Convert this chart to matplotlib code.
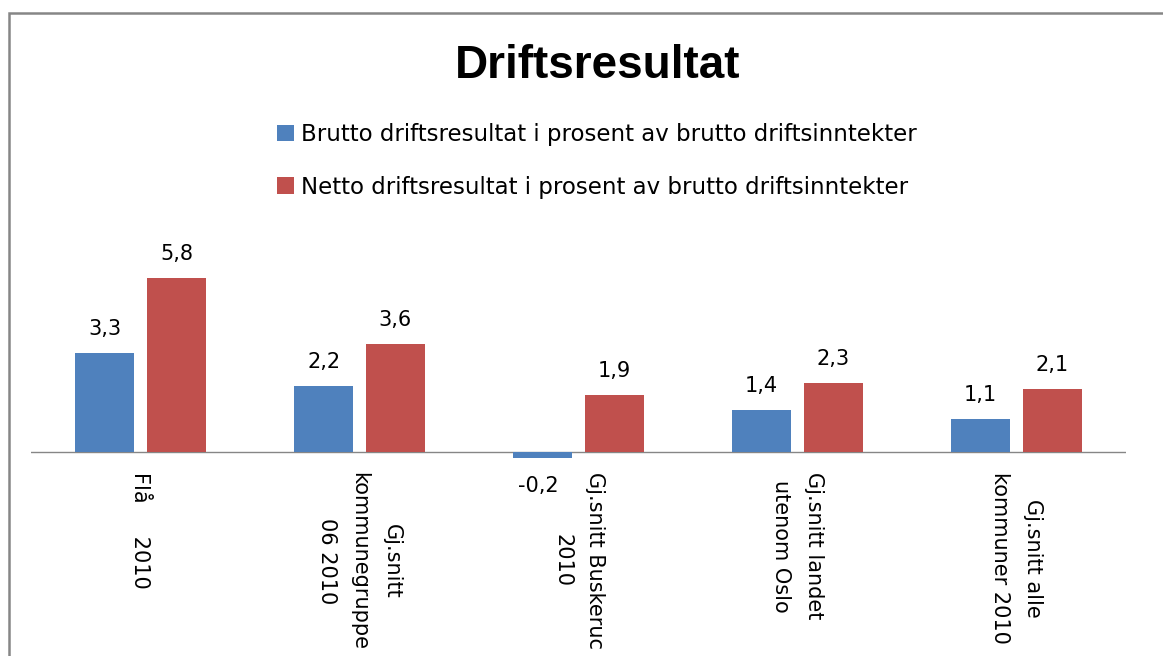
import numpy as np
from matplotlib import pyplot as plt
from matplotlib.patches import Rectangle, Patch

categories = ['Flå     2010', 'Gj.snitt\nkommunegruppe\n06 2010', 'Gj.snitt Buskeruc\n2010',
              'Gj.snitt landet\nutenom Oslo', 'Gj.snitt alle\nkommuner 2010']
brutto = [3.3, 2.2, -0.2, 1.4, 1.1]
netto = [5.8, 3.6, 1.9, 2.3, 2.1]
series_names = ['Brutto driftsresultat i prosent av brutto driftsinntekter',
                'Netto driftsresultat i prosent av brutto driftsinntekter']
blue = '#4F81BD'
red = '#C0504D'

W, H = 1163, 656
fig = plt.figure(figsize=(W / 100, H / 100), dpi=100)

# outer chart border (runs off the right and bottom edges)
fig.add_artist(Rectangle((9 / W, -0.1), 1.2, (H - 13) / H + 0.1, transform=fig.transFigure,
                         fill=False, edgecolor='#868686', linewidth=1.8))

# axes: zero line at y=451.5 px, 30 px per unit
ax = fig.add_axes([31 / W, (H - 472.5) / H, 1095 / W, 231 / H])
ax.set_ylim(-0.7, 7)
ax.set_xlim(-0.5, 4.5)
for s in ax.spines.values():
    s.set_visible(False)
ax.set_yticks([])
ax.axhline(0, color='#868686', linewidth=1.0, zorder=1)

x = np.arange(len(categories))
bw = 0.27
off = 0.164
b1 = ax.bar(x - off, brutto, bw, color=blue, zorder=2)
b2 = ax.bar(x + off, netto, bw, color=red, zorder=2)

for bars, vals in [(b1, brutto), (b2, netto)]:
    for rect, v in zip(bars, vals):
        cx = rect.get_x() + rect.get_width() / 2
        lab = f'{v:.1f}'.replace('.', ',')
        if v >= 0:
            ax.annotate(lab, (cx, v), xytext=(0, 10), textcoords='offset points',
                        ha='center', va='bottom', fontsize=15, family='DejaVu Sans')
        else:
            ax.annotate(lab, (cx - 0.02, v), xytext=(0, -13), textcoords='offset points',
                        ha='center', va='top', fontsize=15, family='DejaVu Sans')

ax.set_xticks(x)
ax.set_xticklabels(categories, rotation=-90, ha='center', va='top', fontsize=15,
                   family='DejaVu Sans', linespacing=1.8, multialignment='center')
ax.tick_params(axis='x', length=0, pad=0)

fig.text(598 / W, 1 - 78 / H, 'Driftsresultat', ha='center', va='baseline',
         fontsize=33, fontweight='bold', family=['Liberation Sans', 'DejaVu Sans'])

handles = [Patch(facecolor=blue), Patch(facecolor=red)]
fig.legend(handles, series_names, loc='upper left', bbox_to_anchor=(277 / W, 1 - 123 / H),
           frameon=False, borderpad=0, borderaxespad=0, handlelength=0.75, handleheight=0.75,
           handletextpad=0.3, labelspacing=1.3,
           prop={'family': 'DejaVu Sans', 'size': 16.5})

plt.savefig('out.png', dpi=100)
